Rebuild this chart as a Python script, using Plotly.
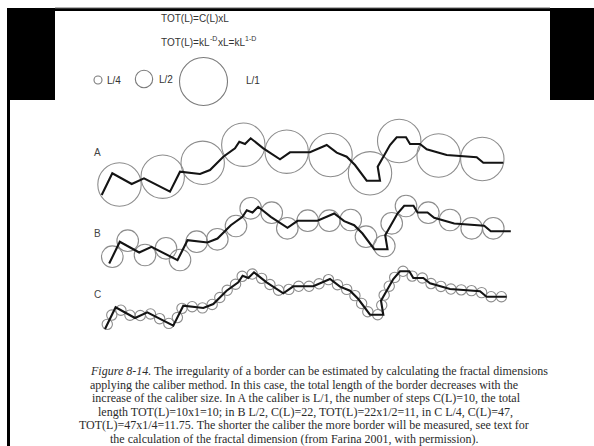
import math
import plotly.graph_objects as go

# ---------------------------------------------------------------
# Border profile: distance along the transect and local elevation
# ---------------------------------------------------------------
border_dist = [0, 10.6, 30, 42.3, 68.3, 78.3, 98.3, 108.3, 121.6, 133.3, 137.6, 143.3,
               149, 161.6, 178.3, 188.3, 208.3, 225, 235, 245, 253.3, 265, 278.3, 276,
               288.3, 295, 304.3, 308.3, 318.3, 325, 345, 358.3, 375, 381.6, 401.6]
border_elev = [0, 21.7, 11, 16.7, 3.3, 23.3, 21, 25, 38.3, 46.7, 53.3, 51, 56.7, 46.7,
               35.7, 42.7, 42.7, 50, 42.3, 38.3, 30, 14.3, 14.3, 28.3, 50, 57.7, 57.7,
               51, 51, 45.7, 40, 39, 37.7, 32.3, 32.3]

# Caliber sizes and number of steps C(L) measured with each of them
row_labels = ["A", "B", "C"]
caliber_names = ["L/1", "L/2", "L/4"]
caliber_steps = [10, 22, 47]

# Caliber circles laid along the border with L/1 (A) and L/2 (B):
# centre position (distance, elevation) on the same frame as the profile
caliber_a_dist = [17.8, 61, 101, 141.6, 185, 228.8, 268.3, 297.5, 336.9, 380.6]
caliber_a_elev = [10.5, 18.3, 32.2, 50.3, 43.3, 40, 21.7, 54, 39.5, 36]
caliber_b_dist = [3.1, 18.5, 35.8, 56.8, 70.8, 87.5, 108.1, 126.8, 141.5, 162.5, 178.1,
                  198.5, 220.1, 241.5, 256.8, 275.1, 282.5, 296.8, 319.1, 340.8, 362.5,
                  384.1]
caliber_b_elev = [6.8, 22.8, 8.5, 15.2, 3.5, 21.8, 24.2, 37.5, 55.2, 50.8, 35.2, 42.8,
                  42.8, 43.5, 26.8, 17.5, 40.2, 57.5, 50.8, 43.5, 35.2, 35.2]
caliber_a_radius = 21.7
caliber_b_radius = 10.8

# Legend calibers drawn at the top (radius of each reference circle)
legend_names = ["L/4", "L/2", "L/1"]
legend_radius = [4, 8.7, 24]

# Caption (the figure number is set in italics)
caption_head = "Figure 8-14."
caption_lines = [
    "The irregularity of a border can be estimated by calculating the fractal dimensions",
    "applying the caliber method. In this case, the total length of the border decreases with the",
    "increase of the caliber size. In A the caliber is L/1, the number of steps C(L)=10, the total",
    "length TOT(L)=10x1=10; in B L/2, C(L)=22, TOT(L)=22x1/2=11, in C L/4, C(L)=47,",
    "TOT(L)=47x1/4=11.75. The shorter the caliber the more border will be measured, see text for",
    "the calculation of the fractal dimension (from Farina 2001, with permission).",
]
caption_x = [151.7, 304, 306, 305, 304, 294]

W, H = 594, 446

# placement of each profile on the page (left end x, baseline measured from top)
row_x0 = [101.7, 109.2, 105.0]
row_base = [195.0, 263.5, 329.0]
row_label_y = [152.7, 233.3, 294.3]


def exit_point(pts, pos, c, d):
    """First point after `pos` along the polyline at distance d from c."""
    seg, t0 = pos
    for i in range(seg, len(pts) - 1):
        ax, ay = pts[i]
        bx, by = pts[i + 1]
        dx, dy = bx - ax, by - ay
        fx, fy = ax - c[0], ay - c[1]
        a = dx * dx + dy * dy
        if a == 0:
            continue
        b = 2 * (fx * dx + fy * dy)
        cc = fx * fx + fy * fy - d * d
        disc = b * b - 4 * a * cc
        if disc < 0:
            continue
        t = (-b + math.sqrt(disc)) / (2 * a)
        lo = t0 if i == seg else 0.0
        if lo - 1e-9 <= t <= 1.0:
            return (i, t), (ax + t * dx, ay + t * dy)
    return None


def caliber_chain(pts, r):
    """Chain of touching circles of radius r walked along the border."""
    hit = exit_point(pts, (0, 0.0), pts[0], r)
    if hit is None:
        return [], 0.0
    pos, p = hit
    centers = [p]
    while True:
        hit = exit_point(pts, pos, p, 2 * r)
        if hit is None:
            break
        pos, p = hit
        centers.append(p)
    end = pts[-1]
    return centers, math.hypot(end[0] - p[0], end[1] - p[1])


def fit_caliber(pts, steps):
    """Caliber radius giving `steps` circles that span the whole border."""
    lo, hi = 0.5, 80.0
    for _ in range(70):
        mid = 0.5 * (lo + hi)
        centers, left = caliber_chain(pts, mid)
        frac = (len(centers) - 1) + left / (2 * mid)
        if frac > steps - 0.5:
            lo = mid
        else:
            hi = mid
    r = 0.5 * (lo + hi)
    return r, caliber_chain(pts, r)[0]


fig = go.Figure()
shapes = []
ink = "#141414"
circle_col = "#8d8d8d"
txt_col = "#333333"
sans = "Liberation Sans"
serif = "Liberation Serif"


def note(text, x, y_top, size, family=sans, anchor="left", color=txt_col, style="normal"):
    fig.add_annotation(x=x, y=H - y_top, text=text, showarrow=False,
                       xanchor=anchor, yanchor="middle",
                       font=dict(family=family, size=size, color=color, style=style))


traced = {
    0: (caliber_a_dist, caliber_a_elev, caliber_a_radius),
    1: (caliber_b_dist, caliber_b_elev, caliber_b_radius),
}

for k, lab in enumerate(row_labels):
    ox, oy = row_x0[k], H - row_base[k]
    xs = [ox + d for d in border_dist]
    ys = [oy + e for e in border_elev]
    if k in traced:
        cd, ce, r = traced[k]
        centers = [(ox + d, oy + e) for d, e in zip(cd, ce)]
    else:
        r, centers = fit_caliber(list(zip(xs, ys)), caliber_steps[k])
    for cx, cy in centers[:caliber_steps[k]]:
        shapes.append(dict(type="circle", xref="x", yref="y", layer="below",
                           x0=cx - r, x1=cx + r, y0=cy - r, y1=cy + r,
                           line=dict(color=circle_col, width=1.1)))
    fig.add_trace(go.Scatter(x=xs, y=ys, mode="lines", hoverinfo="skip",
                             line=dict(color=ink, width=2.1),
                             name=caliber_names[k]))
    note(lab, 97.5, row_label_y[k], 10, anchor="center", color="#444444")

# reference calibers at the top of the page
legend_cx = [98, 144, 203.5]
legend_cy = [80, 79, 81.5]
legend_tx = [105, 157, 244]
legend_ty = [80.5, 79, 80.5]
for name, rr, cx, cy, tx, ty in zip(legend_names, legend_radius, legend_cx, legend_cy,
                                    legend_tx, legend_ty):
    shapes.append(dict(type="circle", xref="x", yref="y",
                       x0=cx - rr, x1=cx + rr, y0=H - cy - rr, y1=H - cy + rr,
                       line=dict(color="#7a7a7a", width=1.1)))
    note(name, tx, ty, 10)

# formulas (exponents set as raised, smaller pieces)
note("TOT(L)=C(L)xL", 159, 18, 10)
note("TOT(L)=kL", 159, 42, 10)
note("-D", 207.5, 38.5, 7)
note("xL=kL", 215.5, 42, 10)
note("1-D", 242.5, 38.5, 7)

# caption
for i, line in enumerate(caption_lines):
    y_line = 371 + 13.5 * i
    if i == 0:
        note(caption_head, 88, y_line, 12, family=serif, color="#2b2b2b", style="italic")
        note(line, caption_x[i], y_line, 12, family=serif, color="#2b2b2b")
    else:
        note(line, caption_x[i], y_line, 12, family=serif, anchor="center",
             color="#2b2b2b")

# page frame: dark blocks and border lines of the scanned page
frame = [
    (7, 8, 55, 100),
    (550, 8, 594, 100),
    (55, 8, 550, 11),
    (7, 100, 10, 446),
]
for x0, y0, x1, y1 in frame:
    shapes.append(dict(type="rect", xref="x", yref="y", x0=x0, x1=x1,
                       y0=H - y1, y1=H - y0, line=dict(width=0), fillcolor="black"))
shapes.append(dict(type="line", xref="x", yref="y", x0=55, x1=550, y0=H - 8, y1=H - 8,
                   line=dict(color="#666666", width=1)))

fig.update_layout(
    width=W, height=H, margin=dict(l=0, r=0, t=0, b=0),
    paper_bgcolor="white", plot_bgcolor="white", showlegend=False,
    shapes=shapes,
    xaxis=dict(range=[0, W], visible=False, fixedrange=True),
    yaxis=dict(range=[0, H], visible=False, fixedrange=True),
)

fig.write_html("out.html")
